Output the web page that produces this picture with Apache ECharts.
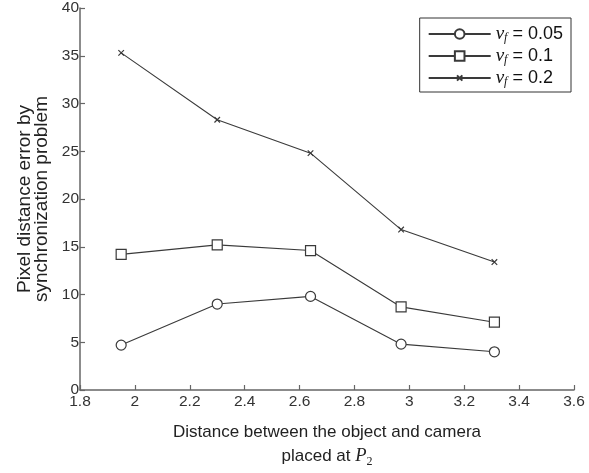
<!DOCTYPE html>
<html>
<head>
<meta charset="utf-8">
<script src="https://cdn.jsdelivr.net/npm/echarts@6/dist/echarts.min.js"></script>
<style>
  html, body { margin: 0; padding: 0; background: #fff; }
  #chart { width: 589px; height: 473px; }
</style>
</head>
<body>
<div id="chart"></div>
<script>
// Distance between object and camera (x) for each measurement
const distances = [1.95, 2.30, 2.64, 2.97, 3.31];
// Pixel distance error for each velocity factor
const errVf005 = [4.7, 9.0, 9.8, 4.8, 4.0];
const errVf01 = [14.2, 15.2, 14.6, 8.7, 7.1];
const errVf02 = [35.3, 28.3, 24.8, 16.8, 13.4];
const seriesNames = ['0.05', '0.1', '0.2'];
// Axis ranges
const xMin = 1.8, xMax = 3.6, xStep = 0.2;
const yMin = 0, yMax = 40, yStep = 5;

const lineColor = '#3a3a3a';
const axisColor = '#666';
const sans = 'Liberation Sans, Arial, sans-serif';
const serif = 'Liberation Serif, Times New Roman, serif';

// small "x" marker, padded with empty move-to points so it draws smaller than its box
const crossPath = 'path://M-4,-4M14,14M0,0L10,10M10,0L0,10';

function pairs(ys) { return distances.map((x, i) => [x, ys[i]]); }

function makeSeries(name, ys, symbol, size, fill) {
  return {
    name: name,
    type: 'line',
    data: pairs(ys),
    symbol: symbol,
    symbolSize: size,
    showAllSymbol: true,
    lineStyle: { color: lineColor, width: 1.1 },
    itemStyle: { color: fill, borderColor: lineColor, borderWidth: 1.2 },
    emphasis: { disabled: true },
    animation: false
  };
}

const chart = echarts.init(document.getElementById('chart'), null, { renderer: 'canvas' });
chart.setOption({
  backgroundColor: '#fff',
  animation: false,
  grid: { left: 80, right: 15, top: 8, bottom: 76, containLabel: false },
  legend: {
    orient: 'vertical',
    right: 18,
    top: 18,
    borderColor: '#333',
    borderWidth: 1,
    padding: [6, 8, 4, 8],
    itemGap: 2,
    itemWidth: 62,
    itemHeight: 12,
    data: seriesNames,
    formatter: n => '{v|v}{s|f}{t| = ' + n + '}',
    textStyle: {
      color: '#111',
      lineHeight: 20,
      rich: {
        v: { fontFamily: serif, fontStyle: 'italic', fontSize: 19, color: '#111', lineHeight: 20 },
        s: { fontFamily: serif, fontStyle: 'italic', fontSize: 12, color: '#111', verticalAlign: 'bottom', lineHeight: 20, padding: [6, 0, 0, 0] },
        t: { fontFamily: sans, fontSize: 18, color: '#111', lineHeight: 20 }
      }
    }
  },
  xAxis: {
    type: 'value',
    min: xMin, max: xMax, interval: xStep,
    name: 'Distance between the object and camera\n{t|placed at }{p|P}{s|2}',
    nameLocation: 'middle',
    nameGap: 30,
    nameTextStyle: {
      fontFamily: sans, fontSize: 17, color: '#222', lineHeight: 24,
      rich: {
        t: { fontFamily: sans, fontSize: 17, color: '#222', lineHeight: 24 },
        p: { fontFamily: serif, fontStyle: 'italic', fontSize: 18.5, color: '#222', lineHeight: 24 },
        s: { fontFamily: serif, fontSize: 12, color: '#222', verticalAlign: 'bottom', lineHeight: 24, padding: [7, 0, 0, 0] }
      }
    },
    axisLine: { show: true, onZero: false, lineStyle: { color: axisColor, width: 1.5 } },
    axisTick: { show: true, inside: true, length: 5, lineStyle: { color: axisColor, width: 1.2 } },
    axisLabel: { fontFamily: sans, fontSize: 15.5, color: '#333', margin: 4 },
    splitLine: { show: false }
  },
  yAxis: {
    type: 'value',
    min: yMin, max: yMax, interval: yStep,
    name: 'Pixel distance error by\nsynchronization problem',
    nameLocation: 'middle',
    nameGap: 25,
    nameRotate: 90,
    nameTextStyle: { fontFamily: sans, fontSize: 19, color: '#222', lineHeight: 17 },
    axisLine: { show: true, onZero: false, lineStyle: { color: axisColor, width: 1.5 } },
    axisTick: { show: true, inside: true, length: 5, lineStyle: { color: axisColor, width: 1.2 } },
    axisLabel: { fontFamily: sans, fontSize: 15.5, color: '#333', margin: 1 },
    splitLine: { show: false }
  },
  series: [
    makeSeries(seriesNames[0], errVf005, 'circle', 10, '#fff'),
    makeSeries(seriesNames[1], errVf01, 'rect', 10, '#fff'),
    makeSeries(seriesNames[2], errVf02, crossPath, 10, 'none')
  ]
});
</script>
</body>
</html>
